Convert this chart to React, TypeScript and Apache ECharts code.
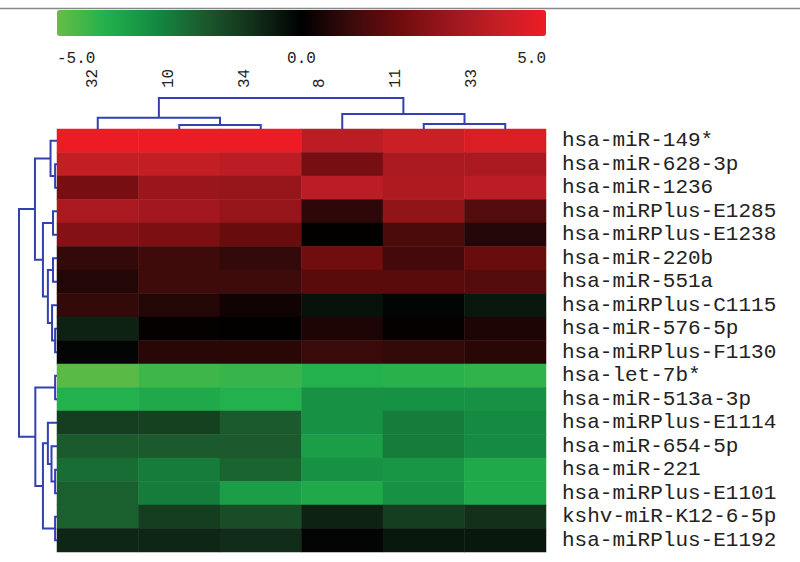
import React, { useEffect, useRef } from "react";
import * as echarts from "echarts";

const columns = ["32", "10", "34", "8", "11", "33"];
const genes = [
  "hsa-miR-149*",
  "hsa-miR-628-3p",
  "hsa-miR-1236",
  "hsa-miRPlus-E1285",
  "hsa-miRPlus-E1238",
  "hsa-miR-220b",
  "hsa-miR-551a",
  "hsa-miRPlus-C1115",
  "hsa-miR-576-5p",
  "hsa-miRPlus-F1130",
  "hsa-let-7b*",
  "hsa-miR-513a-3p",
  "hsa-miRPlus-E1114",
  "hsa-miR-654-5p",
  "hsa-miR-221",
  "hsa-miRPlus-E1101",
  "kshv-miR-K12-6-5p",
  "hsa-miRPlus-E1192",
];
// rows follow genes, columns follow `columns`
const values: number[][] = [
  [5.0, 5.0, 5.0, 3.8, 4.2, 4.6],
  [4.0, 4.0, 3.8, 2.2, 3.4, 3.4],
  [2.2, 3.0, 2.9, 3.8, 3.5, 3.8],
  [3.4, 3.2, 2.9, 0.8, 2.8, 1.5],
  [2.5, 2.3, 1.9, 0.05, 1.3, 0.6],
  [0.9, 1.1, 0.9, 2.1, 1.2, 1.9],
  [0.6, 1.1, 1.1, 1.6, 1.6, 1.5],
  [0.9, 0.6, 0.3, -0.4, -0.1, -0.5],
  [-0.7, 0.1, 0.05, 0.5, 0.1, 0.5],
  [-0.1, 0.7, 0.7, 1.0, 0.9, 0.7],
  [-4.8, -4.4, -4.3, -4.0, -4.1, -4.2],
  [-4.0, -3.8, -4.0, -3.2, -3.2, -3.2],
  [-1.3, -1.4, -2.0, -3.2, -2.7, -3.0],
  [-2.0, -2.0, -2.0, -3.5, -2.7, -3.0],
  [-2.4, -2.7, -2.2, -3.2, -3.3, -3.8],
  [-2.1, -2.7, -3.5, -3.8, -3.2, -3.8],
  [-2.1, -1.3, -1.7, -0.7, -1.3, -1.0],
  [-0.8, -0.8, -0.9, -0.1, -0.5, -0.5],
];
const colorTicks = [-5, 0, 5];
// colour scale from -5 to 5 in unit steps
const colorStops = [
  "#67bd45",
  "#22b14c",
  "#148a42",
  "#1b5a2c",
  "#12301a",
  "#000000",
  "#3a0a0a",
  "#6e0c0e",
  "#9a161c",
  "#c41e25",
  "#ed1c24",
];

// dendrograms: [left, right, height]; leaves are indices
type Node = number | [Node, Node, number];
const colTree: Node = [[0, [1, 2, 0.13], 0.36], [3, [4, 5, 0.16], 0.48], 1.0];
const rowTree: Node = [
  [
    [0, [1, 2, 0.05], 0.17],
    [[3, 4, 0.105], [[5, 6, 0.105], [7, [8, 9, 0.05], 0.13], 0.24], 0.37],
    0.58,
  ],
  [[10, 11, 0.05], [[12, [13, [14, 15, 0.05], 0.145], 0.24], [16, 17, 0.05], 0.37], 0.57],
  1.0,
];

function treeSegments(tree: Node, swap: boolean) {
  const segs: { coords: number[][] }[] = [];
  const walk = (n: Node): { p: number; h: number } => {
    if (typeof n === "number") return { p: n + 0.5, h: 0 };
    const a = walk(n[0]);
    const b = walk(n[1]);
    const h = n[2];
    const pts = [
      [a.p, a.h],
      [a.p, h],
      [b.p, h],
      [b.p, b.h],
    ];
    segs.push({ coords: swap ? pts.map(([p, v]) => [v, p]) : pts });
    return { p: (a.p + b.p) / 2, h };
  };
  walk(tree);
  return segs;
}

const MONO = "'Liberation Mono', 'DejaVu Sans Mono', monospace";
const TREE_COLOR = "#3340b0";

export default function App() {
  const ref = useRef<HTMLDivElement>(null);
  useEffect(() => {
    if (!ref.current) return;
    const chart = echarts.init(ref.current, undefined, { renderer: "svg" });
    const heatData: number[][] = [];
    values.forEach((row, r) => row.forEach((v, c) => heatData.push([c, r, v])));

    chart.setOption({
      animation: false,
      backgroundColor: "#ffffff",
      graphic: [
        {
          type: "line",
          shape: { x1: 0, y1: 8.5, x2: 800, y2: 8.5 },
          style: { stroke: "#888", lineWidth: 1.5 },
        },
      ],
      grid: [
        { left: 57, top: 129, width: 489, height: 423 },
        { left: 57, top: 98, width: 489, height: 31 },
        { left: 19, top: 129, width: 38, height: 423 },
        { left: 57, top: 36, width: 489, height: 10 },
        { left: 55, top: 98, width: 455, height: 31 },
      ],
      xAxis: [
        {
          gridIndex: 0,
          type: "category",
          data: columns,
          position: "top",
          axisLine: { show: false },
          axisTick: { show: false },
          splitLine: { show: false },
          axisLabel: { show: false },
        },
        { gridIndex: 1, type: "value", min: 0, max: 6, show: false },
        { gridIndex: 2, type: "value", min: 0, max: 1, inverse: true, show: false },
        {
          gridIndex: 3,
          type: "value",
          min: -5,
          max: 5,
          interval: 5,
          axisLine: { show: false },
          axisTick: { show: false },
          splitLine: { show: false },
          axisLabel: {
            margin: 5,
            fontFamily: MONO,
            fontSize: 16,
            color: "#222",
            alignMinLabel: "left",
            alignMaxLabel: "right",
            formatter: (v: number) => (colorTicks.includes(v) ? v.toFixed(1) : ""),
          },
        },
        {
          gridIndex: 4,
          type: "category",
          data: columns,
          position: "top",
          axisLine: { show: false },
          axisTick: { show: false },
          splitLine: { show: false },
          axisLabel: {
            rotate: 90,
            margin: 10,
            fontFamily: MONO,
            fontSize: 16,
            color: "#222",
          },
        },
      ],
      yAxis: [
        {
          gridIndex: 0,
          type: "category",
          data: genes,
          inverse: true,
          position: "right",
          axisLine: { show: false },
          axisTick: { show: false },
          splitLine: { show: false },
          axisLabel: {
            interval: 0,
            margin: 16,
            fontFamily: MONO,
            fontSize: 21,
            color: "#222",
          },
        },
        { gridIndex: 1, type: "value", min: 0, max: 1, show: false },
        { gridIndex: 2, type: "value", min: 0, max: 18, inverse: true, show: false },
        { gridIndex: 3, type: "value", min: 0, max: 1, show: false },
        { gridIndex: 4, type: "value", min: 0, max: 1, show: false },
      ],
      visualMap: {
        type: "continuous",
        min: -5,
        max: 5,
        orient: "horizontal",
        left: 57,
        top: 10,
        padding: 0,
        itemWidth: 26,
        itemHeight: 489,
        calculable: false,
        seriesIndex: 0,
        inRange: { color: colorStops },
      },
      series: [
        {
          type: "heatmap",
          xAxisIndex: 0,
          yAxisIndex: 0,
          data: heatData,
          itemStyle: { borderWidth: 0 },
        },
        {
          type: "lines",
          coordinateSystem: "cartesian2d",
          xAxisIndex: 1,
          yAxisIndex: 1,
          polyline: true,
          clip: false,
          lineStyle: { color: TREE_COLOR, width: 2, opacity: 1 },
          data: treeSegments(colTree, false),
        },
        {
          type: "lines",
          coordinateSystem: "cartesian2d",
          xAxisIndex: 2,
          yAxisIndex: 2,
          polyline: true,
          clip: false,
          lineStyle: { color: TREE_COLOR, width: 2, opacity: 1 },
          data: treeSegments(rowTree, true),
        },
      ],
    });
    return () => chart.dispose();
  }, []);
  return (
    <div
      ref={ref}
      style={{ position: "fixed", left: 0, top: 0, width: 800, height: 562 }}
    />
  );
}
